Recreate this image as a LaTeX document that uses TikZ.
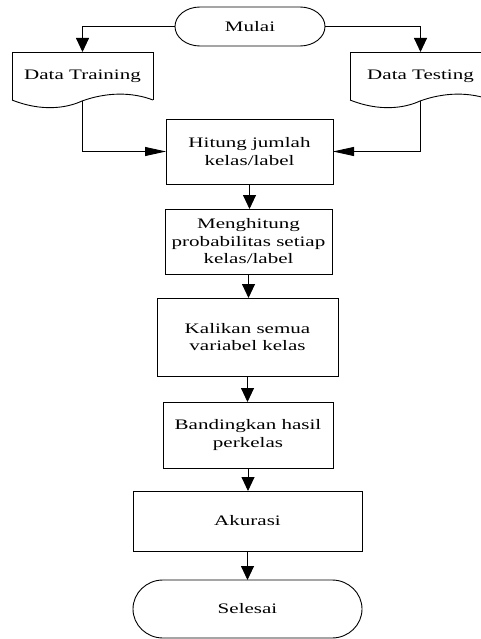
\documentclass[tikz,border=0pt]{standalone}
\usepackage{fontspec}
\setmainfont{Liberation Serif}[FakeStretch=1.45]
\usetikzlibrary{arrows.meta}
\begin{document}
\begin{tikzpicture}[x=1pt,y=-1pt,line width=0.9pt,
  every node/.style={font=\fontsize{14.5}{17.5}\selectfont, align=center, inner sep=0pt, outer sep=0pt},
  procbox/.style={draw, rectangle},
  termbox/.style={rectangle},
  docbox/.style={rectangle},
  varrow/.style={-{Triangle[length=14pt,width=13pt]}},
  harrow/.style={-{Triangle[length=21pt,width=9pt]}}]

\path[use as bounding box, clip] (0,0) rectangle (481,639);

% terminators (outlines drawn below)
\node[termbox, minimum width=150pt, minimum height=39pt] (mulai) at (250,26.5) {Mulai};
\node[termbox, minimum width=229pt, minimum height=58pt] (selesai) at (247.5,609) {Selesai};

% input documents
\node[docbox, minimum width=141pt, minimum height=48pt] (train) at (82.5,76) {Data Training};
\node[docbox, minimum width=141pt, minimum height=48pt] (test) at (420.5,76) {Data Testing};

% process steps
\node[procbox, minimum width=167pt, minimum height=65pt] (hitung) at (249.5,151.5) {Hitung jumlah\\kelas/label};
\node[procbox, minimum width=167pt, minimum height=65pt] (prob) at (248.5,241.5) {Menghitung\\probabilitas setiap\\kelas/label};
\node[procbox, minimum width=181pt, minimum height=78pt] (kali) at (247.5,337) {Kalikan semua\\variabel kelas};
\node[procbox, minimum width=170pt, minimum height=66pt] (banding) at (248,435) {Bandingkan hasil\\perkelas};
\node[procbox, minimum width=229pt, minimum height=60pt] (akurasi) at (247.5,521) {Akurasi};

% terminator outlines
\draw ([xshift=25pt]mulai.north west) -- ([xshift=-25pt]mulai.north east)
  arc[start angle=90, end angle=-90, x radius=25pt, y radius=19.5pt]
  -- ([xshift=25pt]mulai.south west)
  arc[start angle=270, end angle=90, x radius=25pt, y radius=19.5pt] -- cycle;
\draw ([xshift=30pt]selesai.north west) -- ([xshift=-30pt]selesai.north east)
  arc[start angle=90, end angle=-90, x radius=30pt, y radius=29pt]
  -- ([xshift=30pt]selesai.south west)
  arc[start angle=270, end angle=90, x radius=30pt, y radius=29pt] -- cycle;

% document outlines with wavy bottom edge
\foreach \doc in {train,test}{
  \draw (\doc.south west) -- (\doc.north west) -- (\doc.north east) -- (\doc.south east);
  \draw[shift={(\doc.south west)}] (0,0) .. controls (30,12) and (55,8) .. (70,1)
    .. controls (95,-8) and (120,-8) .. (141,0);
}

% connectors
\draw[varrow] (mulai.west) -| (train.north);
\draw[varrow] (mulai.east) -| (test.north);
\draw[harrow] ([yshift=-1pt]train.south) |- (hitung.west);
\draw[harrow] ([yshift=-1pt]test.south) |- (hitung.east);
\draw[varrow] (hitung.south) -- (hitung.south |- prob.north);
\draw[varrow] (prob.south) -- (prob.south |- kali.north);
\draw[varrow] (kali.south) -- (kali.south |- banding.north);
\draw[varrow] (banding.south) -- (banding.south |- akurasi.north);
\draw[varrow] (akurasi.south) -- (selesai.north);
\end{tikzpicture}
\end{document}
